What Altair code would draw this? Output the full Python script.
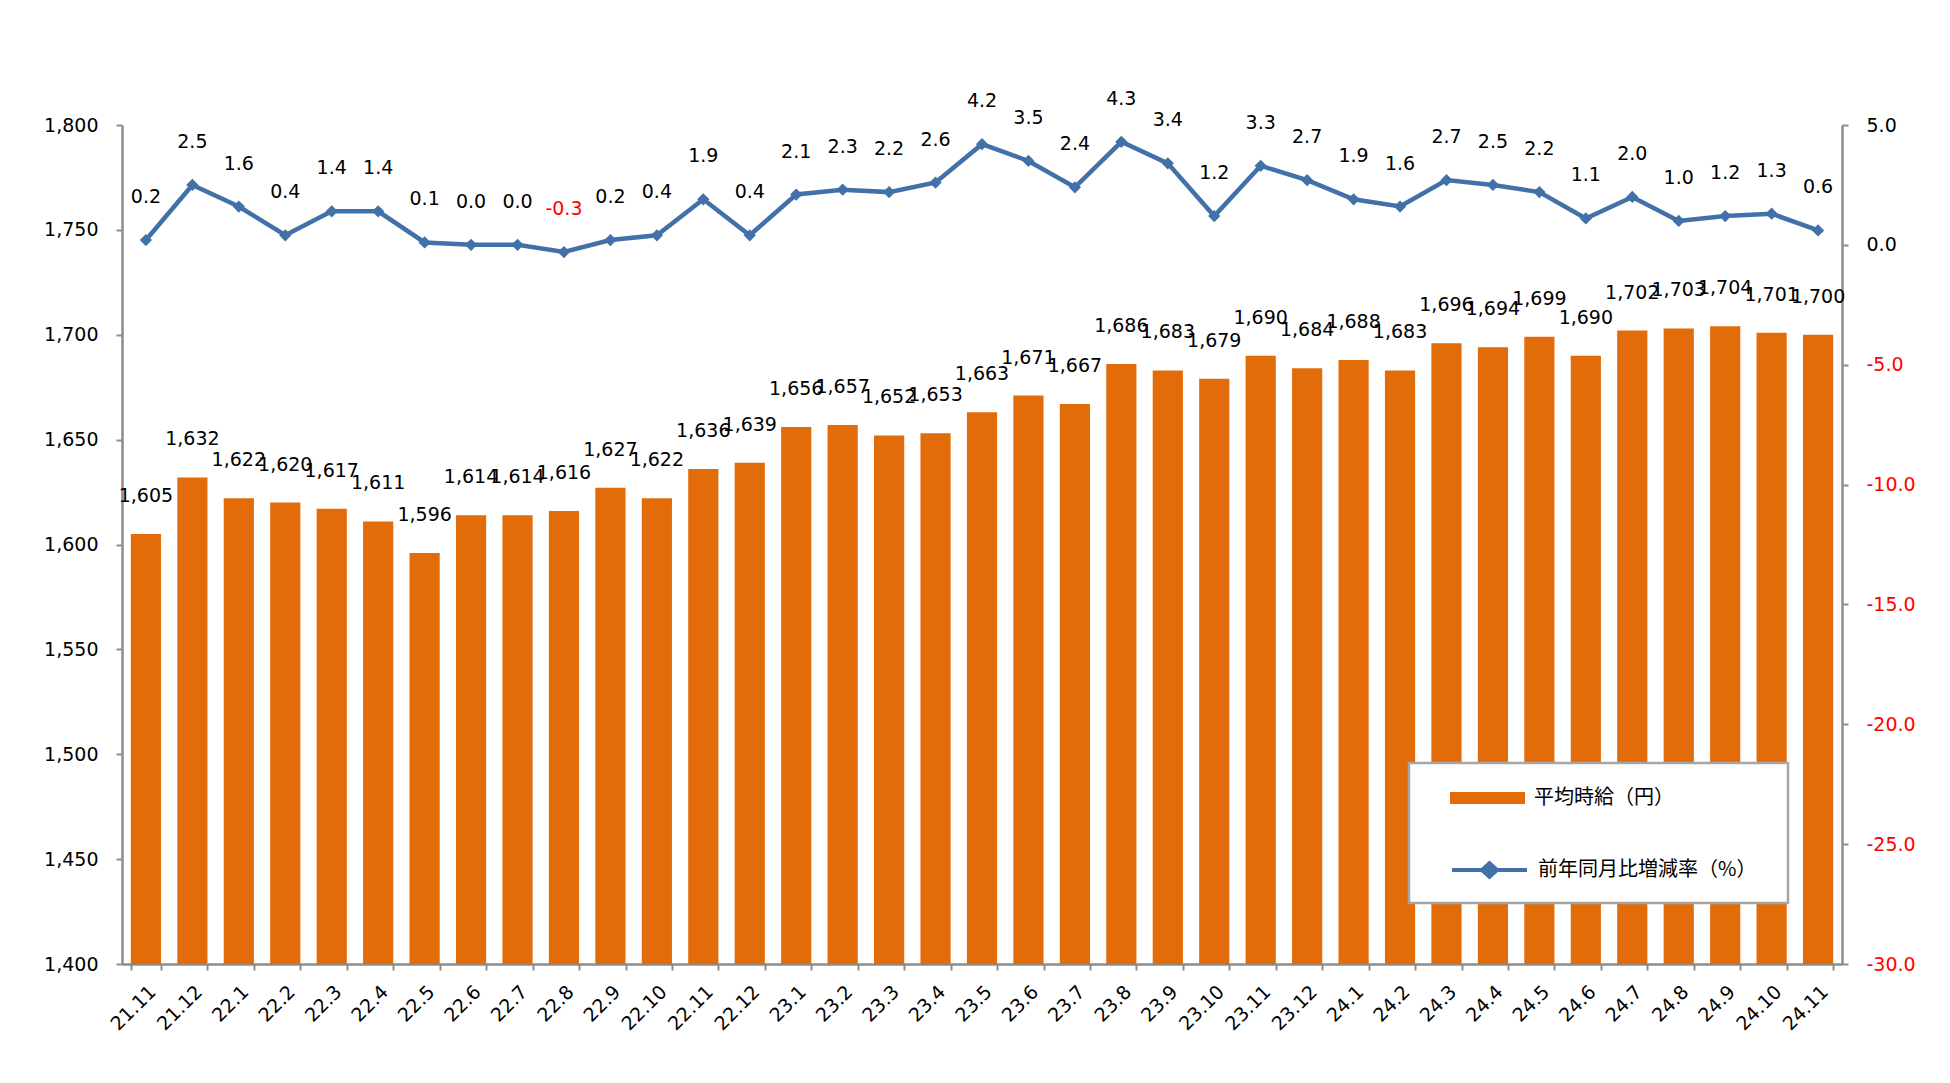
import altair as alt
import pandas as pd

months = ["21.11", "21.12",
          "22.1", "22.2", "22.3", "22.4", "22.5", "22.6", "22.7", "22.8", "22.9", "22.10", "22.11", "22.12",
          "23.1", "23.2", "23.3", "23.4", "23.5", "23.6", "23.7", "23.8", "23.9", "23.10", "23.11", "23.12",
          "24.1", "24.2", "24.3", "24.4", "24.5", "24.6", "24.7", "24.8", "24.9", "24.10", "24.11"]
wages = [1605, 1632, 1622, 1620, 1617, 1611, 1596, 1614, 1614, 1616, 1627, 1622, 1636, 1639,
         1656, 1657, 1652, 1653, 1663, 1671, 1667, 1686, 1683, 1679, 1690, 1684,
         1688, 1683, 1696, 1694, 1699, 1690, 1702, 1703, 1704, 1701, 1700]
rates = [0.2, 2.5, 1.6, 0.4, 1.4, 1.4, 0.1, 0.0, 0.0, -0.3, 0.2, 0.4, 1.9, 0.4,
         2.1, 2.3, 2.2, 2.6, 4.2, 3.5, 2.4, 4.3, 3.4, 1.2, 3.3, 2.7,
         1.9, 1.6, 2.7, 2.5, 2.2, 1.1, 2.0, 1.0, 1.2, 1.3, 0.6]
bar_name = "平均時給（円）"
line_name = "前年同月比増減率（%）"

df = pd.DataFrame({"month": months, "wage": wages, "rate": rates,
                   "bar_s": bar_name, "line_s": line_name})

ORANGE = "#E36C0A"
BLUE = "#4270A8"
GRAY = "#8C8C8C"
FONT = "DejaVu Sans"
FS = 19
W, H = 1720, 839

base = alt.Chart(df).transform_calculate(
    rate_label="replace(format(datum.rate, '.1f'), '\u2212', '-')"
)

x_axis = alt.Axis(labelAngle=-45, labelAlign="right", labelBaseline="top",
                  labelFontSize=FS, labelFont=FONT, labelColor="#000000",
                  labelPadding=12, tickBand="extent", tickSize=6,
                  domainColor=GRAY, tickColor=GRAY, domainWidth=2.5, tickWidth=2)
x_scale = alt.Scale(paddingInner=0.35, paddingOuter=0.19)

def xe():
    return alt.X("month:N", sort=months, title=None, scale=x_scale, axis=x_axis)

left_scale = alt.Scale(domain=[1400, 1800], zero=False, nice=False)
left_axis = alt.Axis(values=list(range(1400, 1801, 50)), format=",d", orient="left",
                     labelFontSize=FS, labelFont=FONT, labelColor="#000000",
                     grid=False, domainColor=GRAY, tickColor=GRAY, domainWidth=2.5,
                     tickWidth=2, tickSize=6, labelPadding=18)

right_scale = alt.Scale(domain=[-30, 5], nice=False, zero=False)
right_axis = alt.Axis(values=list(range(-30, 6, 5)), orient="right",
                      labelExpr="replace(format(datum.value, '.1f'), '\u2212', '-')",
                      labelFontSize=FS, labelFont=FONT,
                      labelColor={"condition": {"test": "datum.value < 0", "value": "#FF0000"},
                                  "value": "#000000"},
                      grid=False, domainColor=GRAY, tickColor=GRAY, domainWidth=2.5,
                      tickWidth=2, tickSize=6, labelPadding=18)

bars = base.mark_bar(color=ORANGE).encode(
    x=xe(),
    y=alt.Y("wage:Q", title=None, scale=left_scale, axis=left_axis),
    y2=alt.datum(1400),
    color=alt.Color("bar_s:N", title=None,
                    scale=alt.Scale(domain=[bar_name], range=[ORANGE]),
                    legend=alt.Legend(orient="none", legendX=1328, legendY=635.5,
                                      symbolType="M-1,-0.16H1V0.16H-1Z", symbolSize=5625,
                                      symbolStrokeWidth=0, labelFont="Noto Sans CJK JP",
                                      labelFontSize=20, labelColor="#000000", labelOffset=9,
                                      labelLimit=0, padding=0)),
)

bar_text = base.mark_text(baseline="bottom", dy=-28, fontSize=FS, font=FONT, color="#000000").encode(
    x=xe(),
    y=alt.Y("wage:Q", title=None, scale=left_scale, axis=left_axis),
    text=alt.Text("wage:Q", format=",d"),
)

left = alt.layer(bars, bar_text)

line = base.mark_line(strokeWidth=4.5, point=alt.OverlayMarkDef(shape="diamond", size=150, filled=True, color=BLUE)).encode(
    x=xe(),
    y=alt.Y("rate:Q", title=None, scale=right_scale, axis=right_axis),
    color=alt.Color("line_s:N", title=None,
                    scale=alt.Scale(domain=[line_name], range=[BLUE]),
                    legend=alt.Legend(orient="none", legendX=1328, legendY=705.5,
                                      symbolType="M-1,0H1M0,-0.18L0.2,0L0,0.18L-0.2,0Z",
                                      symbolSize=5625, symbolStrokeWidth=4,
                                      symbolFillColor=BLUE, symbolStrokeColor=BLUE,
                                      labelFont="Noto Sans CJK JP", labelFontSize=20,
                                      labelColor="#000000", labelOffset=9, labelLimit=0,
                                      padding=0)),
)

line_text = base.mark_text(baseline="bottom", dy=-33, fontSize=FS, font=FONT).encode(
    x=xe(),
    y=alt.Y("rate:Q", title=None, scale=right_scale, axis=right_axis),
    text=alt.Text("rate_label:N"),
    color=alt.condition(alt.datum.rate < 0, alt.value("#FF0000"), alt.value("#000000")),
)

right = alt.layer(line, line_text)

box_df = pd.DataFrame({"k": [0]})
box = alt.Chart(box_df).mark_rect(fill="white", stroke="#A6A6A6", strokeWidth=2.5).encode(
    x=alt.value(1287), x2=alt.value(1666), y=alt.value(638), y2=alt.value(778)
)

chart = alt.layer(left, right, box).resolve_scale(
    y="independent", color="independent"
).resolve_legend(color="independent").properties(
    width=W, height=H,
    autosize=alt.AutoSizeParams(type="none"),
    padding={"left": 114, "top": 117, "right": 100, "bottom": 110},
).configure_view(stroke=None)

chart.save("out.html", embed_options={"renderer": "svg", "actions": False})
